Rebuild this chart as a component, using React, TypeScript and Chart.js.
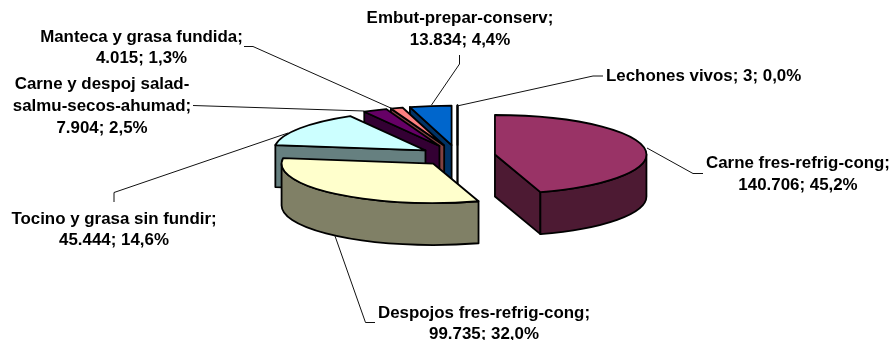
import React, { useEffect, useRef } from "react";
import Chart from "chart.js/auto";

const categories = [
  "Carne fres-refrig-cong",
  "Despojos fres-refrig-cong",
  "Tocino y grasa sin fundir",
  "Carne y despoj salad-salmu-secos-ahumad",
  "Manteca y grasa fundida",
  "Embut-prepar-conserv",
  "Lechones vivos",
];
const values = [140706, 99735, 45444, 7904, 4015, 13834, 3];
const valueLabels = ["140.706", "99.735", "45.444", "7.904", "4.015", "13.834", "3"];
const percentLabels = ["45,2%", "32,0%", "14,6%", "2,5%", "1,3%", "4,4%", "0,0%"];
const topColors = ["#993366", "#FFFFCC", "#CCFFFF", "#660066", "#FF8080", "#0066CC", "#CCCCFF"];
const sideColors = ["#4D1A33", "#808066", "#668080", "#330033", "#804040", "#003366", "#666680"];

// Layout of the pseudo-3D pie
const CX = 457.5;
const CY = 156;
const RX = 151.5;
const RY = 39.5;
const DEPTH = 42;
const explode = [0.25, 0.25, 0.255, 0.28, 0.28, 0.28, 0.28];
const drawOrder = [6, 5, 4, 3, 2, 1, 0];

// Label layout: [centre x, baseline y] per text line, and leader-line path
const FONT = "bold 16.9px 'Liberation Sans', Arial, sans-serif";
const labelLayout = [
  { x: 798, y: 167.8, step: 22.3, lines: ["Carne fres-refrig-cong;"], leader: [[703, 173.5], [693, 173.5], [647, 148]] },
  { x: 484, y: 317.5, step: 21, lines: ["Despojos fres-refrig-cong;"], leader: [[375, 322.5], [365.5, 322.5], [335, 236]] },
  { x: 114, y: 223.5, step: 21.7, lines: ["Tocino y grasa sin fundir;"], leader: [[114, 202], [114, 192.5], [288, 133]] },
  { x: 102, y: 88.5, step: 22, lines: ["Carne y despoj salad-", "salmu-secos-ahumad;"], leader: [[193, 105.5], [364, 111]] },
  { x: 141.5, y: 41.7, step: 21.2, lines: ["Manteca y grasa fundida;"], leader: [[244, 46.5], [253, 46.5], [393, 109]] },
  { x: 460, y: 23, step: 22, lines: ["Embut-prepar-conserv;"], leader: [[459.5, 55], [459.5, 64], [431.5, 105]] },
  { x: 710, y: 80.7, step: 22, lines: [], leader: [[603, 76], [593, 76], [457, 106]] },
];

const pie3d = {
  id: "pie3d",
  beforeDatasetsDraw(chart: any) {
    const ctx = chart.ctx;
    const arcs = chart.getDatasetMeta(0).data;
    const ratio = RY / RX;
    for (const i of drawOrder) {
      const arc = arcs[i];
      const a1 = arc.startAngle;
      const a2 = arc.endAngle;
      const mid = (a1 + a2) / 2;
      const x0 = CX + explode[i] * RX * Math.cos(mid);
      const y0 = CY + explode[i] * RY * Math.sin(mid);
      const pt = (a: number) => [x0 + RX * Math.cos(a), y0 + RY * Math.sin(a)];
      ctx.save();
      ctx.lineWidth = 1.8;
      ctx.lineJoin = "round";
      ctx.strokeStyle = "#000";
      ctx.fillStyle = sideColors[i];
      const face = (a: number) => {
        const p = pt(a);
        ctx.beginPath();
        ctx.moveTo(x0, y0);
        ctx.lineTo(p[0], p[1]);
        ctx.lineTo(p[0], p[1] + DEPTH);
        ctx.lineTo(x0, y0 + DEPTH);
        ctx.closePath();
        ctx.fill();
        ctx.stroke();
      };
      if (-Math.cos(a1) > 0) face(a1);
      if (Math.cos(a2) > 0) face(a2);
      const w1 = Math.max(a1, 0);
      const w2 = Math.min(a2, Math.PI);
      if (w2 > w1) {
        ctx.beginPath();
        ctx.ellipse(x0, y0, RX, RY, 0, w1, w2);
        ctx.ellipse(x0, y0 + DEPTH, RX, RY, 0, w2, w1, true);
        ctx.closePath();
        ctx.fill();
        ctx.stroke();
      }
      // Top face: the library's own arc element, squashed into an ellipse
      ctx.save();
      ctx.translate(x0, y0);
      ctx.scale(1, ratio);
      ctx.translate(-arc.x, -arc.y);
      arc.draw(ctx);
      ctx.restore();
      ctx.beginPath();
      ctx.moveTo(x0, y0);
      ctx.ellipse(x0, y0, RX, RY, 0, a1, a2);
      ctx.closePath();
      ctx.stroke();
      ctx.restore();
    }
    return false;
  },
  afterDraw(chart: any) {
    const ctx = chart.ctx;
    ctx.save();
    ctx.strokeStyle = "#111";
    ctx.lineWidth = 1;
    for (const l of labelLayout) {
      ctx.beginPath();
      l.leader.forEach((p, k) => (k ? ctx.lineTo(p[0], p[1]) : ctx.moveTo(p[0], p[1])));
      ctx.stroke();
    }
    ctx.fillStyle = "#000";
    ctx.font = FONT;
    ctx.textBaseline = "alphabetic";
    categories.forEach((name, i) => {
      const l = labelLayout[i];
      const tail = `${valueLabels[i]}; ${percentLabels[i]}`;
      if (i === 6) {
        ctx.textAlign = "left";
        ctx.fillText(`${name}; ${tail}`, 606, l.y);
        return;
      }
      ctx.textAlign = "center";
      [...l.lines, tail].forEach((t, k) => ctx.fillText(t, l.x, l.y + k * l.step));
    });
    ctx.restore();
  },
};

export default function App() {
  const ref = useRef<HTMLCanvasElement>(null);
  useEffect(() => {
    document.body.style.margin = "0";
    document.body.style.background = "#fff";
    const chart = new Chart(ref.current!, {
      type: "pie",
      data: {
        labels: categories,
        datasets: [{ data: values, backgroundColor: topColors, borderWidth: 0 }],
      },
      options: {
        responsive: false,
        animation: false,
        radius: RX,
        layout: { padding: { left: 20, bottom: 28 } },
        plugins: { legend: { display: false }, tooltip: { enabled: false } },
      } as any,
      plugins: [pie3d as any],
    });
    return () => chart.destroy();
  }, []);
  return (
    <div style={{ position: "absolute", left: 0, top: 0, width: 895, height: 340, overflow: "hidden" }}>
      <canvas ref={ref} width={895} height={340} style={{ display: "block" }} />
    </div>
  );
}
